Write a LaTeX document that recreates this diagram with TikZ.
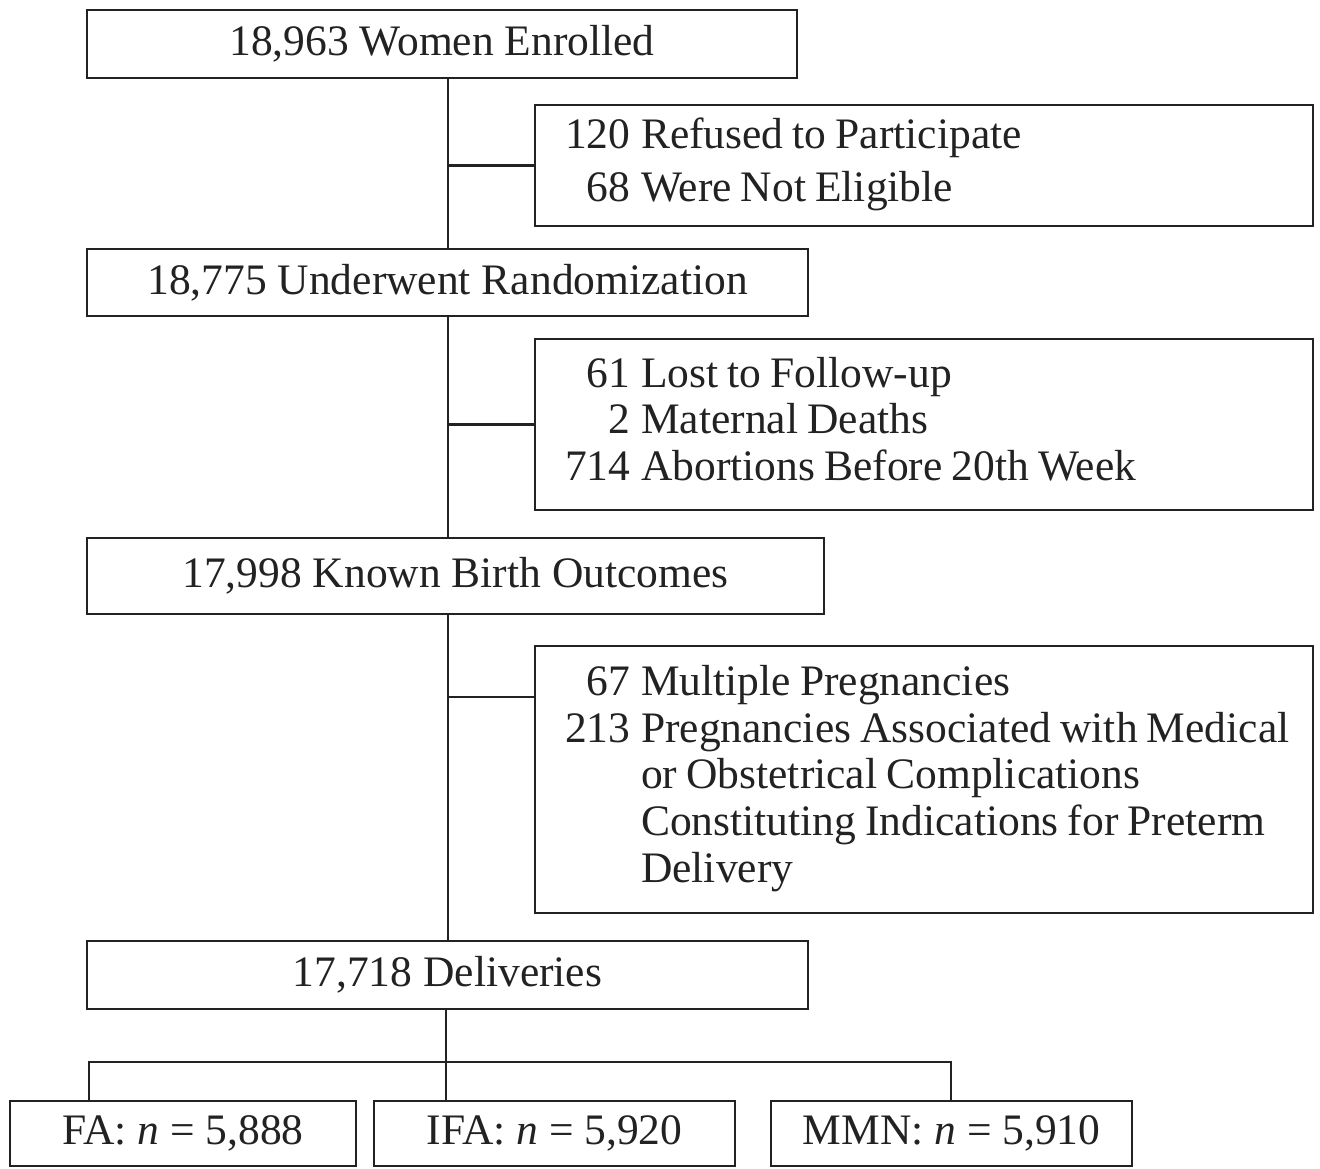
\documentclass[tikz,border=0pt]{standalone}
\usepackage{fontspec}
\setmainfont{Liberation Serif}
\definecolor{ink}{HTML}{222222}
\newcommand{\tightsp}{\spaceskip=0.21em plus 0.05em minus 0.02em\relax}
\begin{document}
\begin{tikzpicture}[x=1pt,y=-1pt,
  box/.style={draw=ink, line width=2.6pt, text=ink, anchor=north west, inner sep=0pt, outer sep=0pt, font=\fontsize{43.5}{46.7}\selectfont},
  side/.style={box, align=left, inner xsep=30pt, inner ysep=0pt},
  link/.style={draw=ink, line width=2.3pt}]
\useasboundingbox (0,0) rectangle (1320,1168);
\fill[white] (0,0) rectangle (1320,1168);

% main column
\node[box, minimum width=710pt, minimum height=68pt] (enr) at (87,10) {18,963 Women Enrolled};
\node[box, minimum width=721pt, minimum height=67pt] (rand) at (87,249) {18,775 Underwent Randomization};
\node[box, minimum width=737pt, minimum height=76pt] (birth) at (87,538) {17,998 Known Birth Outcomes};
\node[box, minimum width=721pt, minimum height=68pt] (del) at (87,941) {17,718 Deliveries};

% exclusion boxes
\node[side, text width=718pt, minimum height=121pt] (ex1) at (535,105)
  {\begin{tabular}{@{}r@{\hspace{0.25em}}l@{}}120 & \tightsp Refused to Participate\\[6.3pt] 68 & \tightsp Were Not Eligible\end{tabular}};
\node[side, text width=718pt, minimum height=171pt] (ex2) at (535,339)
  {\begin{tabular}{@{}r@{\hspace{0.25em}}l@{}}61 & \tightsp Lost to Follow-up\\ 2 & \tightsp Maternal Deaths\\ 714 & \tightsp Abortions Before 20th Week\end{tabular}};
\node[side, text width=718pt, minimum height=267pt] (ex3) at (535,646)
  {\begin{tabular}{@{}r@{\hspace{0.25em}}l@{}}67 & \tightsp Multiple Pregnancies\\ 213 & \tightsp Pregnancies Associated with Medical\\ & \tightsp or Obstetrical Complications\\ & \tightsp Constituting Indications for Preterm\\ & Delivery\end{tabular}};

% arms
\node[box, minimum width=346pt, minimum height=65pt] (fa) at (10,1101) {FA: \textit{n} = 5,888};
\node[box, minimum width=361pt, minimum height=65pt] (ifa) at (374,1101) {IFA: \textit{n} = 5,920};
\node[box, minimum width=361pt, minimum height=65pt] (mmn) at (771,1101) {MMN: \textit{n} = 5,910};

% connectors
\coordinate (t) at (448,0);
\coordinate (c3) at (535,697);
\draw[link] (enr.south -| t) -- (rand.north -| t);
\draw[link] (rand.south -| t) -- (birth.north -| t);
\draw[link] (birth.south -| t) -- (del.north -| t);
\draw[link] (t |- ex1.west) -- (ex1.west);
\draw[link] (t |- ex2.west) -- (ex2.west);
\draw[link] (t |- c3) -- (c3);

\coordinate (j) at (446,1062);
\coordinate (jl) at (89,1062);
\coordinate (jr) at (951,1062);
\draw[link] (del.south -| j) -- (j);
\draw[link] (fa.north -| jl) -- (jl) -- (jr) -- (mmn.north -| jr);
\draw[link] (j) -- (ifa.north -| j);
\end{tikzpicture}
\end{document}
